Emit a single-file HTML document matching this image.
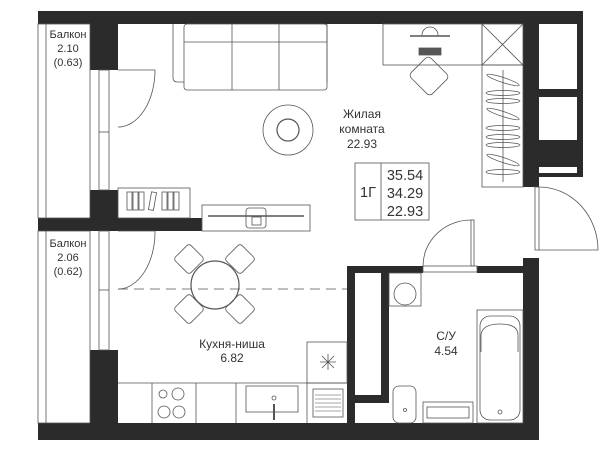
<!DOCTYPE html>
<html><head><meta charset="utf-8"><style>
html,body{margin:0;padding:0;background:#fff}
svg{display:block}
text{font-family:"Liberation Sans",sans-serif;fill:#333}
</style></head><body>
<svg width="600" height="449" viewBox="0 0 600 449" xmlns="http://www.w3.org/2000/svg">
<g fill="#2b2b2b">
<rect x="38" y="11" width="545" height="13"/>
<rect x="90" y="11" width="28" height="59"/>
<rect x="90" y="190" width="28" height="40"/>
<rect x="38" y="218" width="164" height="13"/>
<rect x="90" y="350" width="28" height="80"/>
<rect x="38" y="423" width="501" height="17"/>
<rect x="523" y="11" width="60" height="166"/>
<rect x="523" y="11" width="16" height="176"/>
<rect x="523" y="258" width="16" height="182"/>
<rect x="347" y="266" width="76" height="7"/>
<rect x="477" y="266" width="50" height="7"/>
<rect x="347" y="266" width="8" height="162"/>
<rect x="381" y="270" width="8" height="133"/>
<rect x="347" y="395" width="42" height="8"/>
</g>
<g fill="#fff">
<rect x="539" y="24" width="38" height="65"/>
<rect x="539" y="97" width="38" height="43"/>
<rect x="539" y="167" width="38" height="6"/>
<rect x="355" y="273" width="26" height="122"/>
</g>
<g fill="none" stroke="#555" stroke-width="0.8">
<rect x="38" y="24" width="52" height="194"/>
<line x1="46" y1="24" x2="46" y2="218"/>
<rect x="38" y="231" width="52" height="192"/>
<line x1="46" y1="231" x2="46" y2="423"/>
<rect x="99" y="70" width="10" height="120"/>
<rect x="99" y="231" width="10" height="119"/>
<line x1="99" y1="132" x2="109" y2="132"/>
<line x1="99" y1="290" x2="109" y2="290"/>
<path d="M118 70 L155 70 A37 57 0 0 1 118 127"/>
<path d="M118 231 L155 231 A37 57 0 0 1 118 289"/>
<path d="M173 24 V78 Q173 82 178 82 H184 M327 24 V82"/>
<rect x="184" y="24" width="143" height="66" rx="3"/>
<line x1="184" y1="42" x2="327" y2="42"/>
<line x1="232" y1="24" x2="232" y2="90"/>
<line x1="279" y1="24" x2="279" y2="90"/>
<circle cx="288" cy="130" r="25"/>
<circle cx="288" cy="130" r="11" stroke-width="1.2"/>
<rect x="118" y="188" width="72" height="30"/>
<rect x="127" y="192" width="5" height="18"/><rect x="133" y="192" width="5" height="18"/><rect x="139" y="192" width="5" height="18"/>
<rect x="150" y="192" width="5" height="18" transform="rotate(10 152 201)"/>
<rect x="162" y="192" width="5" height="18"/><rect x="168" y="192" width="5" height="18"/><rect x="174" y="192" width="5" height="18"/>
<rect x="202" y="205" width="108" height="26"/>
<line x1="208" y1="216" x2="304" y2="216" stroke-width="1.5"/>
<rect x="246" y="208" width="20" height="20" rx="3"/>
<rect x="252" y="217" width="9" height="8"/>
<rect x="383" y="24" width="99" height="41"/>
<line x1="410" y1="36" x2="450" y2="36" stroke-width="1.5"/>
<path d="M422 35 A8 8 0 0 1 438 35"/>
<rect x="419" y="48" width="22" height="7" fill="#555"/>
<rect x="414" y="62" width="30" height="28" rx="4" transform="rotate(45 429 76)"/>
<rect x="482" y="24" width="41" height="41"/>
<path d="M482 24 L523 65 M523 24 L482 65"/>
<rect x="482" y="65" width="41" height="122"/>
<line x1="503" y1="70" x2="503" y2="182"/>
<g stroke-width="0.7">
<ellipse cx="503" cy="80" rx="17" ry="2.5" transform="rotate(18 503 80)"/>
<ellipse cx="503" cy="93" rx="17" ry="2.5"/>
<ellipse cx="503" cy="101" rx="17" ry="2.5"/>
<ellipse cx="503" cy="114" rx="17" ry="2.5" transform="rotate(18 503 114)"/>
<ellipse cx="503" cy="128" rx="17" ry="2.5"/>
<ellipse cx="503" cy="137" rx="17" ry="2.5"/>
<ellipse cx="503" cy="145" rx="17" ry="2.5"/>
<ellipse cx="503" cy="160" rx="17" ry="2.5" transform="rotate(18 503 160)"/>
<ellipse cx="503" cy="172" rx="17" ry="2.5"/>
</g>
<rect x="355" y="163" width="74" height="57"/>
<line x1="381" y1="163" x2="381" y2="220"/>
<rect x="535" y="187" width="4" height="63"/>
<path d="M539 250 H598 A59 63 0 0 0 539 187"/>
<rect x="471" y="220" width="3" height="46"/>
<path d="M471 220 A48 46 0 0 0 423 266"/>
<rect x="423" y="266" width="54" height="6"/>
<line x1="118" y1="289" x2="347" y2="289" stroke-dasharray="10 6"/>
<circle cx="215" cy="285" r="24" stroke-width="1.2"/>
<g stroke-width="0.8">
<rect x="178" y="248" width="22" height="22" rx="3" transform="rotate(45 189 259)"/>
<rect x="229" y="248" width="22" height="22" rx="3" transform="rotate(45 240 259)"/>
<rect x="178" y="298" width="22" height="22" rx="3" transform="rotate(45 189 309)"/>
<rect x="229" y="298" width="22" height="22" rx="3" transform="rotate(45 240 309)"/>
</g>
<line x1="118" y1="383" x2="347" y2="383"/>
<line x1="152" y1="383" x2="152" y2="423"/>
<line x1="196" y1="383" x2="196" y2="423"/>
<line x1="236" y1="383" x2="236" y2="423"/>
<line x1="307" y1="383" x2="307" y2="423"/>
<circle cx="163" cy="394" r="4"/><circle cx="178" cy="394" r="6"/>
<circle cx="164" cy="412" r="6"/><circle cx="179" cy="412" r="6"/>
<rect x="246" y="386" width="52" height="26"/>
<line x1="274" y1="404" x2="274" y2="420" stroke-width="2"/>
<circle cx="274" cy="398" r="2"/>
<rect x="307" y="342" width="40" height="41"/>
<path d="M320 362 H336 M328 354 V370 M322 356 L334 368 M334 356 L322 368"/>
<rect x="313" y="389" width="30" height="28"/>
<g stroke="#888"><line x1="315" y1="395" x2="341" y2="395"/><line x1="315" y1="399" x2="341" y2="399"/><line x1="315" y1="403" x2="341" y2="403"/><line x1="315" y1="407" x2="341" y2="407"/><line x1="315" y1="411" x2="341" y2="411"/></g>
<rect x="389" y="273" width="32" height="33"/>
<circle cx="405" cy="294" r="11"/>
<rect x="393" y="386" width="23" height="37" rx="6"/>
<circle cx="405" cy="410" r="1.5"/>
<rect x="423" y="402" width="50" height="21"/>
<rect x="427" y="407" width="42" height="11"/>
<rect x="477" y="310" width="46" height="113"/>
<rect x="480" y="316" width="40" height="104" rx="10"/>
<path d="M481 352 V335 Q482 324 500 324 Q518 324 518 335 V352"/>
<circle cx="500" cy="412" r="2"/>
</g>
<g font-size="11" text-anchor="middle">
<text x="68" y="38">Балкон</text><text x="68" y="52">2.10</text><text x="68" y="66">(0.63)</text>
<text x="68" y="247">Балкон</text><text x="68" y="261">2.06</text><text x="68" y="275">(0.62)</text>
</g>
<g font-size="12" text-anchor="middle">
<text x="362" y="118">Жилая</text><text x="362" y="133">комната</text><text x="362" y="148">22.93</text>
<text x="232" y="348">Кухня-ниша</text><text x="232" y="362">6.82</text>
<text x="446" y="340">С/У</text><text x="446" y="355">4.54</text>
</g>
<g font-size="14.5" text-anchor="middle">
<text x="368" y="197">1Г</text>
<text x="405" y="180">35.54</text><text x="405" y="198">34.29</text><text x="405" y="216">22.93</text>
</g>
</svg>
</body></html>
